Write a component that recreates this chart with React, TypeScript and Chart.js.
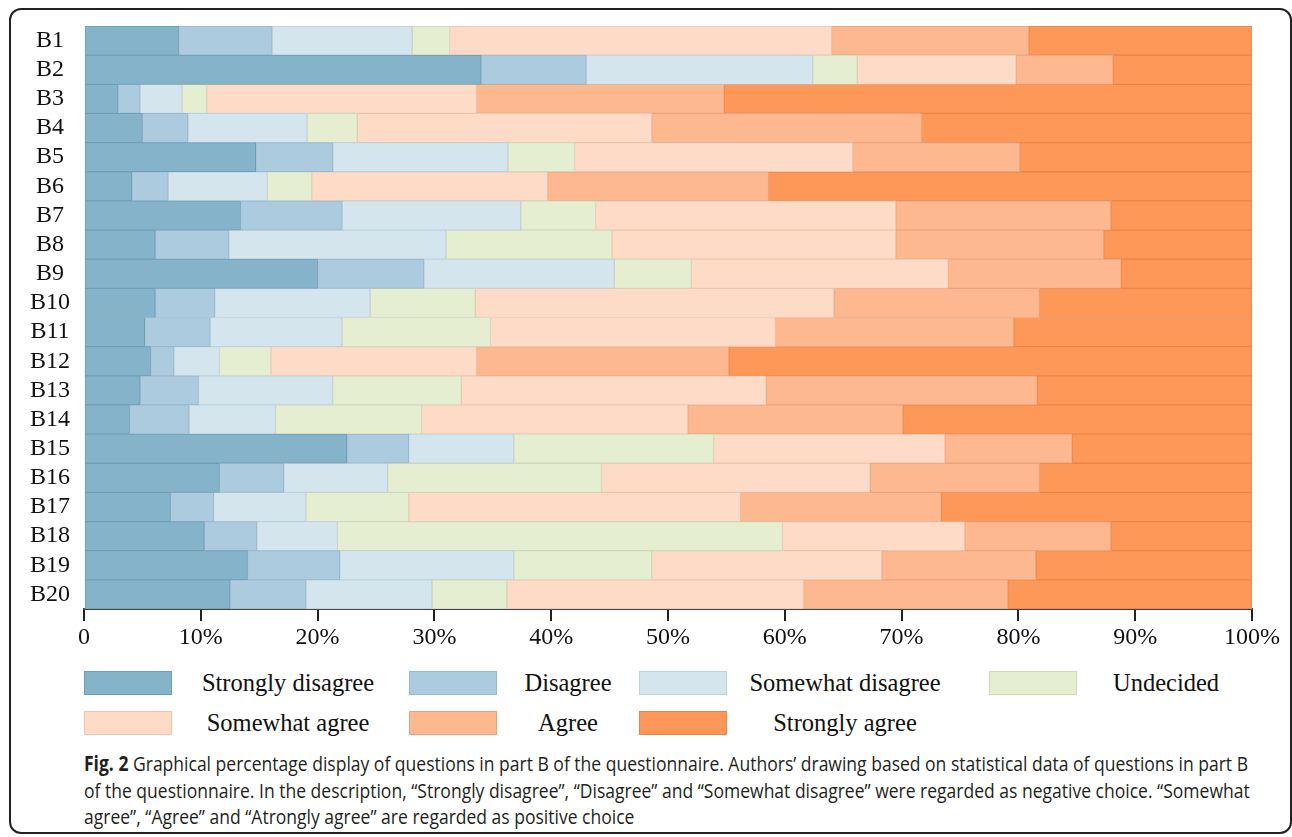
import React, { useEffect, useLayoutEffect, useRef, useState } from 'react';
import { Chart, registerables } from 'chart.js';

Chart.register(...registerables);

const categories = ['B1', 'B2', 'B3', 'B4', 'B5', 'B6', 'B7', 'B8', 'B9', 'B10', 'B11', 'B12', 'B13', 'B14', 'B15', 'B16', 'B17', 'B18', 'B19', 'B20'];

const responseLabels = ['Strongly disagree', 'Disagree', 'Somewhat disagree', 'Undecided', 'Somewhat agree', 'Agree', 'Strongly agree'];

const stronglyDisagree = [8.1, 34.0, 2.9, 5.0, 14.7, 4.1, 13.4, 6.1, 20.0, 6.1, 5.2, 5.7, 4.8, 3.9, 22.5, 11.6, 7.4, 10.3, 14.0, 12.5];
const disagree = [8.0, 9.0, 1.9, 3.9, 6.6, 3.1, 8.7, 6.3, 9.1, 5.1, 5.6, 2.0, 5.0, 5.1, 5.3, 5.5, 3.7, 4.5, 7.9, 6.5];
const somewhatDisagree = [12.0, 19.4, 3.6, 10.2, 15.0, 8.5, 15.3, 18.6, 16.3, 13.3, 11.3, 3.9, 11.5, 7.4, 9.0, 8.9, 7.9, 6.9, 14.9, 10.8];
const undecided = [3.2, 3.8, 2.1, 4.3, 5.7, 3.8, 6.4, 14.2, 6.6, 9.0, 12.7, 4.4, 11.0, 12.5, 17.1, 18.3, 8.8, 38.1, 11.8, 6.4];
const somewhatAgree = [32.7, 13.6, 23.1, 25.2, 23.8, 20.2, 25.7, 24.3, 22.0, 30.7, 24.4, 17.6, 26.1, 22.8, 19.8, 23.0, 28.4, 15.6, 19.7, 25.4];
const agree = [16.9, 8.3, 21.2, 23.1, 14.3, 18.9, 18.4, 17.8, 14.8, 17.6, 20.4, 21.6, 23.2, 18.4, 10.9, 14.5, 17.2, 12.5, 13.2, 17.5];
const stronglyAgree = [19.1, 11.9, 45.2, 28.3, 19.9, 41.4, 12.1, 12.7, 11.2, 18.2, 20.4, 44.8, 18.4, 29.9, 15.4, 18.2, 26.6, 12.1, 18.5, 20.9];

const seriesValues = [stronglyDisagree, disagree, somewhatDisagree, undecided, somewhatAgree, agree, stronglyAgree];

const fillColors = ['#85b3ca', '#adcbde', '#d4e5ee', '#e6eed2', '#fedbc6', '#feb88f', '#fe9858'];
const edgeColors = ['#6f9fb7', '#98b9ce', '#bcd2de', '#d0d9bb', '#ecc5af', '#eaa47b', '#e98548'];

const xTickValues = [0, 10, 20, 30, 40, 50, 60, 70, 80, 90, 100];

const captionLines = [
  ' Graphical percentage display of questions in part B of the questionnaire. Authors\u2019 drawing based on statistical data of questions in part B',
  'of the questionnaire. In the description, \u201cStrongly disagree\u201d, \u201cDisagree\u201d and \u201cSomewhat disagree\u201d were regarded as negative choice. \u201cSomewhat',
  'agree\u201d, \u201cAgree\u201d and \u201cAtrongly agree\u201d are regarded as positive choice',
];

const legendBoxLeft = [84, 409, 639, 989];
const legendTextCenter = [288, 568, 845, 1166];
const legendRowCenter = [683, 723];

export default function App() {
  const canvasRef = useRef<HTMLCanvasElement | null>(null);
  const firstLineRef = useRef<HTMLSpanElement | null>(null);
  const [capScale, setCapScale] = useState(0.76);

  useLayoutEffect(() => {
    document.body.style.margin = '0';
    const el = firstLineRef.current;
    if (el) {
      const w = el.offsetWidth;
      if (w > 0) setCapScale(1164 / w);
    }
  }, []);

  useEffect(() => {
    const canvas = canvasRef.current;
    if (!canvas) return;
    const serif = "'Liberation Serif', 'Times New Roman', serif";
    const chart = new Chart(canvas, {
      type: 'bar',
      data: {
        labels: categories,
        datasets: responseLabels.map((label, i) => ({
          label,
          data: seriesValues[i],
          backgroundColor: fillColors[i],
          borderColor: edgeColors[i],
          borderWidth: 1,
          borderSkipped: false,
          barPercentage: 1,
          categoryPercentage: 1,
        })),
      },
      options: {
        indexAxis: 'y',
        responsive: false,
        animation: false,
        devicePixelRatio: 1,
        layout: { padding: { top: 26, right: 40, left: 0, bottom: 0 } },
        plugins: {
          legend: { display: false },
          tooltip: { enabled: false },
        },
        scales: {
          x: {
            type: 'linear',
            stacked: true,
            min: 0,
            max: 100,
            afterBuildTicks: (scale: any) => {
              scale.ticks = xTickValues.map((v) => ({ value: v }));
            },
            afterFit: (scale: any) => {
              scale.height = 51;
            },
            ticks: {
              autoSkip: false,
              maxRotation: 0,
              padding: 2,
              color: '#111',
              font: { family: serif, size: 24 },
              callback: (v: any) => (Number(v) === 0 ? '0' : `${v}%`),
            },
            grid: {
              drawOnChartArea: false,
              drawTicks: true,
              tickLength: 12,
              color: '#222',
              lineWidth: 2,
            },
            border: { display: true, color: '#444', width: 2 },
          },
          y: {
            stacked: true,
            afterFit: (scale: any) => {
              scale.width = 84;
            },
            ticks: {
              autoSkip: false,
              crossAlign: 'center',
              padding: 14,
              color: '#111',
              font: { family: serif, size: 24, lineHeight: 1 },
            },
            grid: { display: false, drawTicks: false },
            border: { display: false },
          },
        },
      },
    });
    return () => chart.destroy();
  }, []);

  const serifCss = "'Liberation Serif', 'Times New Roman', serif";

  return (
    <div style={{ position: 'relative', width: 1292, height: 837, overflow: 'hidden', background: '#fff' }}>
      <div
        style={{
          position: 'absolute',
          left: 9,
          top: 8,
          width: 1283,
          height: 826,
          boxSizing: 'border-box',
          border: '2px solid #222',
          borderRadius: 12,
        }}
      />
      <canvas
        ref={canvasRef}
        width={1292}
        height={660}
        style={{ position: 'absolute', left: 0, top: 0, width: 1292, height: 660, display: 'block' }}
      />
      {responseLabels.map((label, i) => {
        const col = i % 4;
        const row = Math.floor(i / 4);
        const cy = legendRowCenter[row];
        return (
          <React.Fragment key={label}>
            <div
              style={{
                position: 'absolute',
                left: legendBoxLeft[col],
                top: cy - 12,
                width: 88,
                height: 24,
                boxSizing: 'border-box',
                background: fillColors[i],
                border: `1px solid ${edgeColors[i]}`,
              }}
            />
            <div
              style={{
                position: 'absolute',
                left: legendTextCenter[col] - 150,
                width: 300,
                top: cy - 15,
                height: 30,
                lineHeight: '30px',
                textAlign: 'center',
                fontFamily: serifCss,
                fontSize: 24.5,
                color: '#111',
                whiteSpace: 'nowrap',
              }}
            >
              {label}
            </div>
          </React.Fragment>
        );
      })}
      <div
        style={{
          position: 'absolute',
          left: 84,
          top: 750,
          fontFamily: "'Open Sans', 'Noto Sans', sans-serif",
          fontSize: 20.5,
          color: '#231f20',
        }}
      >
        {captionLines.map((line, i) => (
          <div key={i} style={{ height: 26.5, lineHeight: '26.5px', whiteSpace: 'nowrap' }}>
            <span
              ref={i === 0 ? firstLineRef : undefined}
              style={{
                display: 'inline-block',
                transform: `scaleX(${capScale})`,
                transformOrigin: 'left center',
              }}
            >
              {i === 0 ? <b>Fig. 2</b> : null}
              {line}
            </span>
          </div>
        ))}
      </div>
    </div>
  );
}
